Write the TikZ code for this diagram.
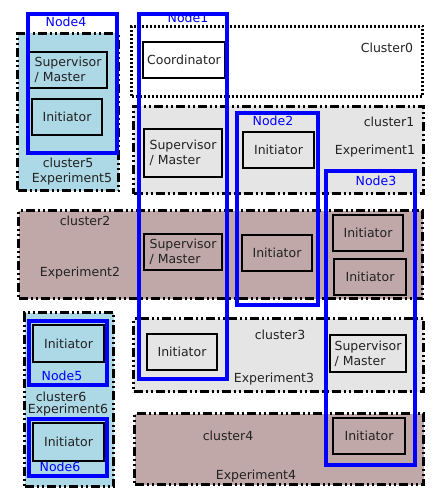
\documentclass[tikz,border=0pt]{standalone}
\usepackage{fontspec}
\setmainfont{DejaVu Sans}
\usetikzlibrary{fit}
\definecolor{clblue}{HTML}{ADD8E6}
\definecolor{clgray}{HTML}{E5E5E5}
\definecolor{clrose}{HTML}{C0A8A8}
\definecolor{hostblue}{HTML}{0000FF}
\definecolor{txt}{HTML}{222222}
\tikzset{
  clusterbox/.style={draw=black, line width=3pt, dash pattern=on 9pt off 3pt on 2pt off 3pt on 2pt off 3pt, inner sep=0pt},
  dotbox/.style={draw=black, line width=3pt, dash pattern=on 2pt off 2pt, inner sep=0pt, fill=white},
  procbox/.style={draw=black, line width=1.8pt, inner sep=0pt, text=txt, font=\fontsize{12.5}{15}\selectfont, align=left},
  hostbox/.style={draw=hostblue, line width=4pt, inner sep=0pt},
  hostlabel/.style={text=hostblue, inner sep=0pt, font=\fontsize{12.5}{15}\selectfont},
  cltext/.style={text=txt, inner sep=0pt, font=\fontsize{12.5}{15}\selectfont}
}
\begin{document}
\begin{tikzpicture}[x=1pt,y=-1pt]
\useasboundingbox (0,0) rectangle (436,497);
% clusters
\node[clusterbox, fill=clblue, fit={(17.5,33.5) (118.5,190.5)}] (c5) {};
\node[dotbox, fit={(131.5,26.5) (422.5,96.5)}] (c0) {};
\node[clusterbox, fill=clgray, fit={(133.5,106.5) (423.5,193.5)}] (c1) {};
\node[clusterbox, fill=clrose, fit={(18.5,210.5) (422.5,298.5)}] (c2) {};
\node[clusterbox, fill=clblue, fit={(24.5,312.5) (113.5,486.5)}] (c6) {};
\node[clusterbox, fill=clgray, fit={(133.5,318.5) (423.5,391.5)}] (c3) {};
\node[clusterbox, fill=clrose, fit={(134.5,413.5) (423.5,484.5)}] (c4) {};
% cluster labels
\node[cltext] (l5a) at (68,163) {cluster5};
\node[cltext] (l5b) at (72,179) {Experiment5};
\node[cltext] (l0) at (387,48) {Cluster0};
\node[cltext] (l1a) at (389,122) {cluster1};
\node[cltext] (l1b) at (375,151) {Experiment1};
\node[cltext] (l2a) at (85,221) {cluster2};
\node[cltext] (l2b) at (80,273) {Experiment2};
\node[cltext] (l6a) at (61,396.5) {cluster6};
\node[cltext] (l6b) at (68,410.5) {Experiment6};
\node[cltext] (l3a) at (280,335) {cluster3};
\node[cltext] (l3b) at (274,379) {Experiment3};
\node[cltext] (l4a) at (228,436) {cluster4};
\node[cltext] (l4b) at (256,476) {Experiment4};
% processes
\node[procbox, minimum width=78pt, minimum height=36pt] (sup5) at (68,70) {Supervisor\\/ Master};
\node[procbox, minimum width=70pt, minimum height=36pt] (ini5) at (67,117) {Initiator};
\node[procbox, minimum width=82pt, minimum height=36pt] (coord) at (184,60) {Coordinator};
\node[procbox, minimum width=78pt, minimum height=48pt] (sup1) at (183,153) {Supervisor\\/ Master};
\node[procbox, minimum width=71pt, minimum height=36pt] (ini1) at (278.5,150) {Initiator};
\node[procbox, minimum width=78pt, minimum height=36pt] (sup2) at (183,252) {Supervisor\\/ Master};
\node[procbox, minimum width=70pt, minimum height=36pt] (ini2) at (277,253) {Initiator};
\node[procbox, minimum width=70pt, minimum height=36pt] (ini3a) at (368,233) {Initiator};
\node[procbox, minimum width=72pt, minimum height=36pt] (ini3b) at (370,277) {Initiator};
\node[procbox, minimum width=71pt, minimum height=37pt] (ini6a) at (68.5,343.5) {Initiator};
\node[procbox, minimum width=71pt, minimum height=38pt] (ini6b) at (68.5,442) {Initiator};
\node[procbox, minimum width=70pt, minimum height=36pt] (ini3c) at (182,352) {Initiator};
\node[procbox, minimum width=76pt, minimum height=37pt] (sup3) at (368,353.5) {Supervisor\\/ Master};
\node[procbox, minimum width=72pt, minimum height=36pt] (ini4) at (369,436) {Initiator};
% host labels
\node[hostlabel] (h4) at (66,22) {Node4};
\node[hostlabel] (h1) at (188,18) {Node1};
\node[hostlabel] (h2) at (273,121) {Node2};
\node[hostlabel] (h3) at (376,181) {Node3};
\node[hostlabel] (h5) at (62,376) {Node5};
\node[hostlabel] (h6) at (60,467) {Node6};
% hosts
\node[hostbox, fit={(28,14) (117,153)}] (n4) {};
\node[hostbox, fit={(139,14) (227,379)}] (n1) {};
\node[hostbox, fit={(237,113) (318,305)}] (n2) {};
\node[hostbox, fit={(326,171) (415,465)}] (n3) {};
\node[hostbox, fit={(29,321) (107,385)}] (n5) {};
\node[hostbox, fit={(29,419) (107,476)}] (n6) {};
\end{tikzpicture}
\end{document}
